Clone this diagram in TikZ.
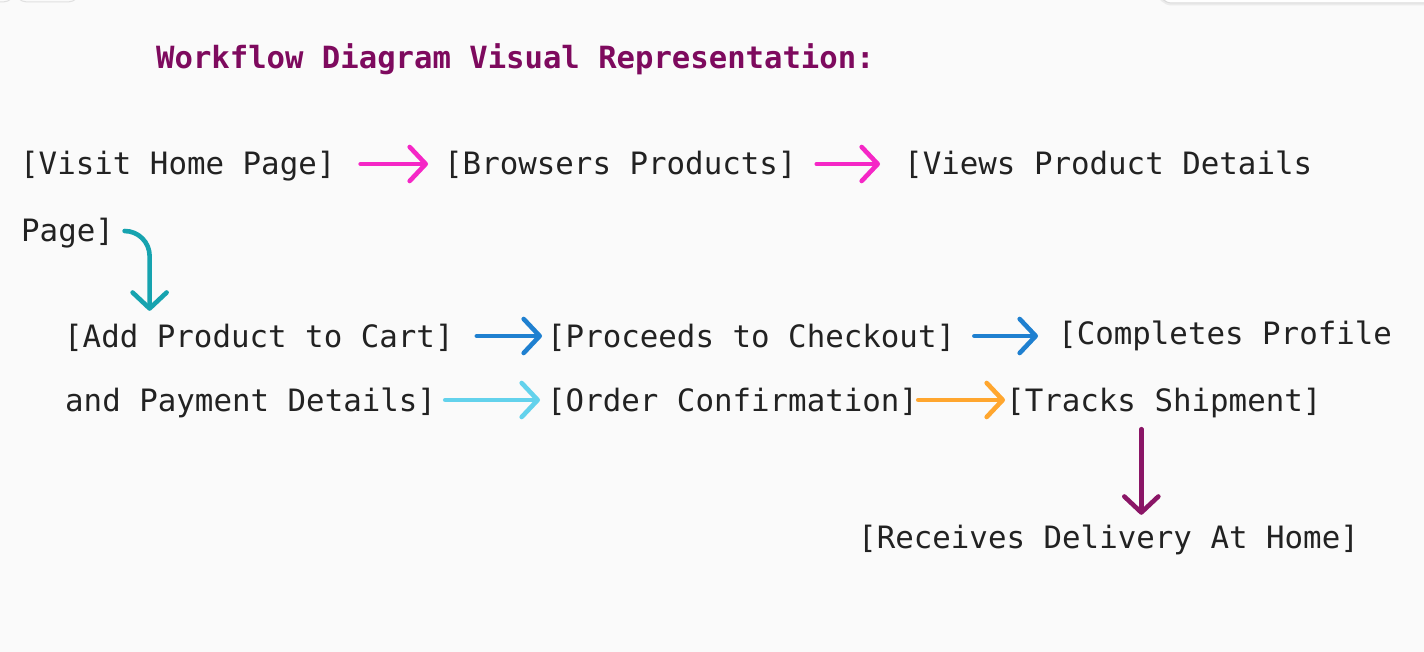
\documentclass[tikz,border=0pt]{standalone}
\usepackage{fontspec}
\setmonofont{DejaVu Sans Mono}
\usepackage{xcolor}
\usetikzlibrary{arrows.meta,positioning,calc}
\definecolor{FlowBack}{HTML}{FAFAFA}
\definecolor{FlowText}{HTML}{222222}
\definecolor{FlowTitle}{HTML}{7E0A5E}
\definecolor{FlowPink}{HTML}{F527C6}
\definecolor{FlowTeal}{HTML}{16A3AF}
\definecolor{FlowBlue}{HTML}{1F80D0}
\definecolor{FlowSky}{HTML}{63D2EC}
\definecolor{FlowOrange}{HTML}{FFA62E}
\definecolor{FlowPlum}{HTML}{8A1566}
\newcommand{\flowfont}{\ttfamily\fontsize{30.8}{36}\selectfont}

\begin{document}
\begin{tikzpicture}[x=1pt,y=-1pt,font=\flowfont,
  item/.style={anchor=base west,inner sep=0pt,text height=24pt,text depth=2pt,text=FlowText},
  flow/.style={line width=4.6pt,line cap=round,-{Straight Barb[length=16pt,width=34pt,round]}}]
\fill[FlowBack] (0,0) rectangle (1424,652);
\useasboundingbox (0,0) rectangle (1424,652);
\begin{scope}
\clip (0,0) rectangle (1424,652);
\draw[black!12,line width=1pt,rounded corners=12pt] (-30,-40) rectangle (15,2);
\draw[black!12,line width=1pt,rounded corners=12pt] (15,-40) rectangle (80,2);
\draw[black!8,line width=3pt,rounded corners=14pt] (1158,-40) rectangle (1450,4);
\draw[black!14,line width=1pt,rounded corners=14pt,fill=white] (1158,-40) rectangle (1450,3);
\end{scope}
\node[item,text=FlowTitle,font=\ttfamily\bfseries\fontsize{30.6}{36}\selectfont] (title) at (156,69) {Workflow Diagram Visual Representation:};
\node[item] (visit) at (20,175) {[Visit Home Page]};
\node[item] (browse) at (444,175) {[Browsers Products]};
\node[item] (details) at (904,175) {[Views Product Details};
\node[item] (pgend) at (21,242) {Page]};
\node[item] (cart) at (64,347) {[Add Product to Cart]};
\node[item] (checkout) at (547,347) {[Proceeds to Checkout]};
\node[item] (profile) at (1058,344) {[Completes Profile};
\node[item] (payment) at (65,411) {and Payment Details]};
\node[item] (confirm) at (547,411) {[Order Confirmation]};
\node[item] (tracks) at (1006,411) {[Tracks Shipment]};
\node[item] (home) at (858,548) {[Receives Delivery At Home]};
% arrows
\draw[flow,FlowPink,shorten <=25pt,shorten >=16pt] (visit.east) -- (browse.west);
\draw[flow,FlowPink,shorten <=20pt,shorten >=24pt] (browse.east) -- (details.west);
\draw[flow,FlowTeal] ([xshift=10.5pt]pgend.east) arc[start angle=90,end angle=0,radius=25pt] coordinate (turn)
  -- ([yshift=12pt]turn |- cart.north);
\draw[flow,FlowBlue,shorten <=23pt,shorten >=5pt] (cart.east) -- (checkout.west);
\draw[flow,FlowBlue,shorten <=19pt,shorten >=20pt] (checkout.east) -- (checkout.east -| profile.west);
\draw[flow,FlowSky,shorten <=9pt,shorten >=7pt] (payment.east) -- (confirm.west);
\draw[flow,FlowOrange,shorten <=0pt,shorten >=1pt] (confirm.east) -- (tracks.west);
\draw[flow,FlowPlum,shorten <=16pt,shorten >=9pt] ([xshift=-22.5pt]tracks.south) -- ([xshift=-22.5pt]tracks.south |- home.north);
\end{tikzpicture}
\end{document}
